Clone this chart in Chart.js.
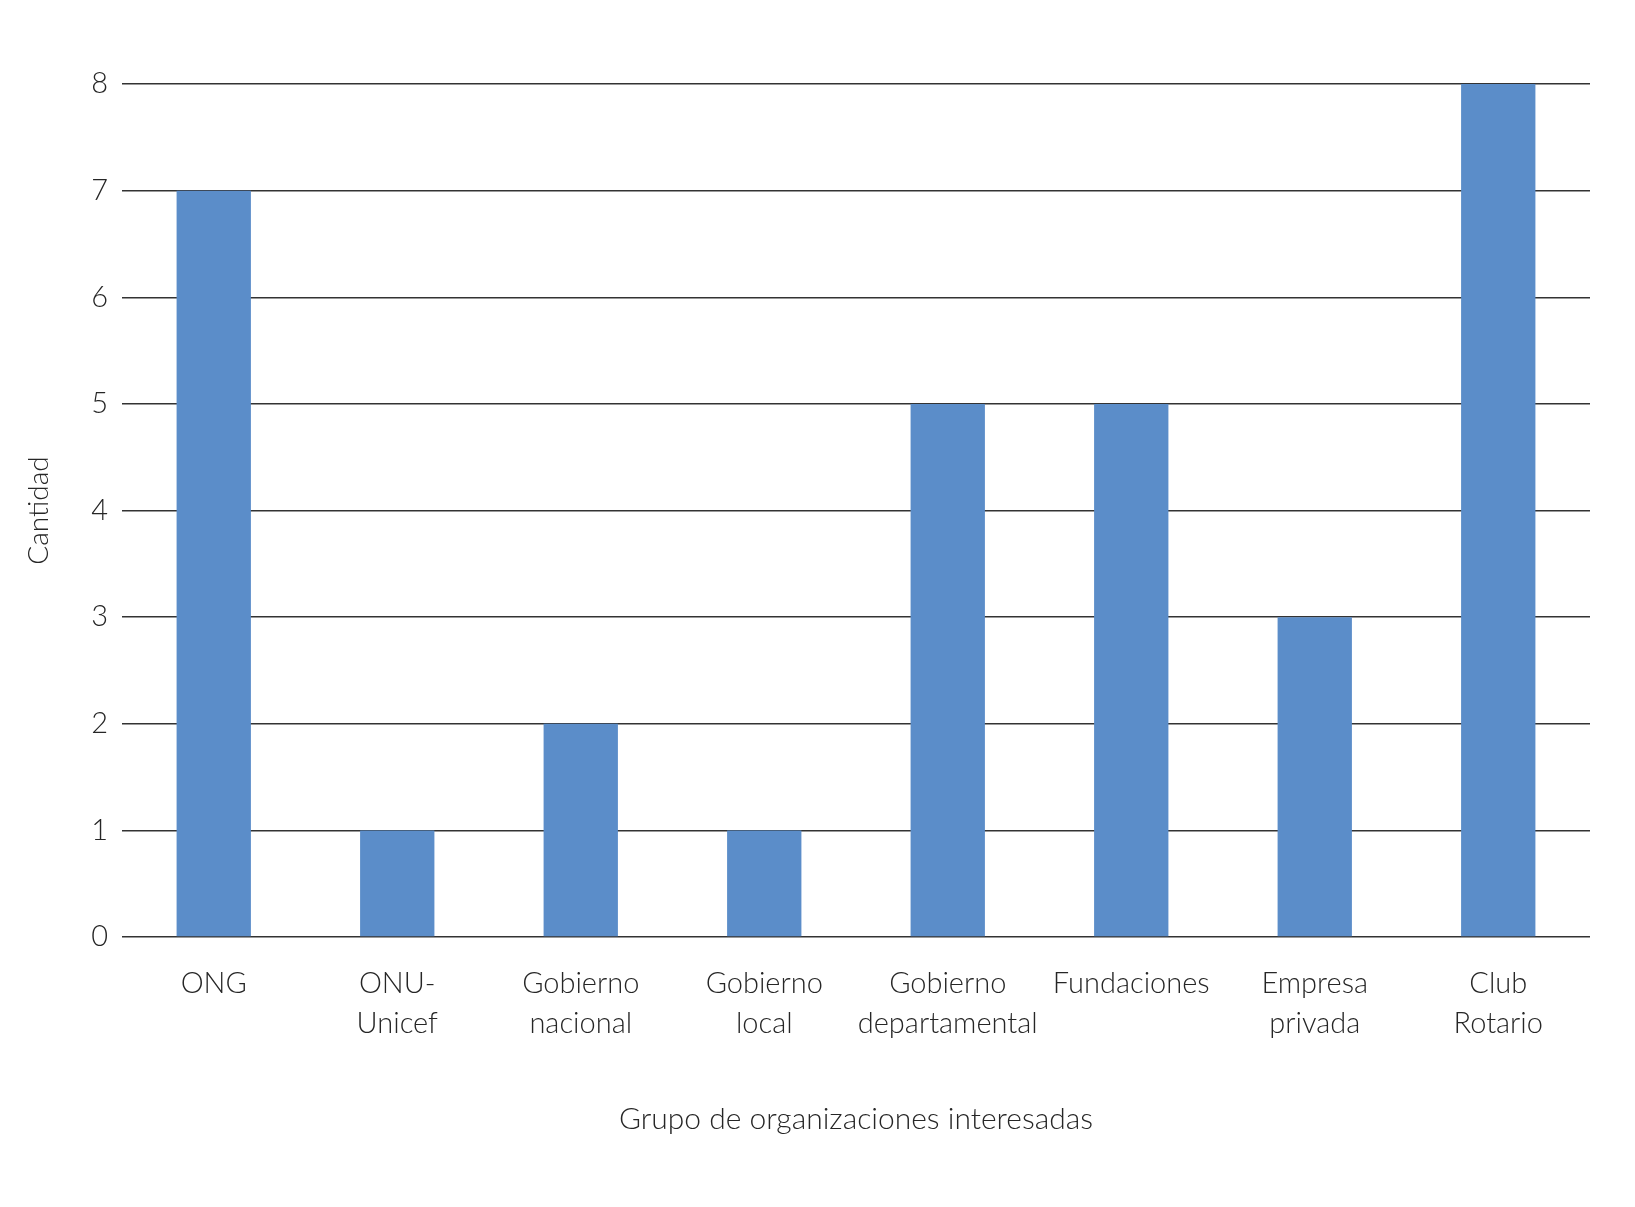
<!DOCTYPE html>
<html lang="es">
<head>
  <meta charset="UTF-8" />
  <title>Grupo de organizaciones interesadas</title>
  <script src="https://cdn.jsdelivr.net/npm/chart.js"></script>
  <style>
    * { box-sizing: border-box; margin: 0; padding: 0; }
    body { background: #fff; width: 1635px; height: 1207px; overflow: hidden; }
    #chart-container { width: 1635px; height: 1207px; }
  </style>
</head>
<body>
  <div id="chart-container">
    <canvas id="barChart"></canvas>
  </div>

  <script>
    const categories = [
      ['ONG'], ['ONU-', 'Unicef'], ['Gobierno', 'nacional'], ['Gobierno', 'local'],
      ['Gobierno', 'departamental'], ['Fundaciones'], ['Empresa', 'privada'], ['Club', 'Rotario']
    ];
    const cantidad = [7, 1, 2, 1, 5, 5, 3, 8];
    const yTicks = [0, 1, 2, 3, 4, 5, 6, 7, 8];

    const FONT = "'Lato', 'Open Sans', sans-serif";
    const TEXT = '#262626';

    const ctx = document.getElementById('barChart').getContext('2d');
    new Chart(ctx, {
      type: 'bar',
      data: {
        labels: categories,
        datasets: [{
          label: 'Cantidad',
          data: cantidad,
          backgroundColor: '#5B8DC9',
          borderWidth: 0,
          barPercentage: 0.81,
          categoryPercentage: 0.5
        }]
      },
      options: {
        responsive: true,
        maintainAspectRatio: false,
        animation: false,
        layout: { padding: { top: 84, right: 45, bottom: 70, left: 0 } },
        plugins: {
          legend: { display: false },
          tooltip: { enabled: false }
        },
        scales: {
          y: {
            min: 0,
            max: 8,
            afterBuildTicks: (scale) => { scale.ticks = yTicks.map(v => ({ value: v })); },
            afterFit: (scale) => { scale.width = 122; },
            border: { display: false },
            grid: { color: '#333', lineWidth: 1.5, drawTicks: false },
            ticks: {
              padding: 14,
              color: TEXT,
              font: { family: FONT, size: 29, weight: 300 }
            },
            title: {
              display: true,
              text: 'Cantidad',
              color: TEXT,
              font: { family: FONT, size: 28, weight: 300 },
              padding: { top: 22, bottom: 0 }
            }
          },
          x: {
            afterFit: (scale) => { scale.height = 200; },
            border: { display: false },
            grid: { display: false },
            ticks: {
              padding: 19,
              color: TEXT,
              maxRotation: 0,
              autoSkip: false,
              font: { family: FONT, size: 29, weight: 300, lineHeight: 1.38 }
            },
            title: {
              display: true,
              text: 'Grupo de organizaciones interesadas',
              color: TEXT,
              font: { family: FONT, size: 30, weight: 300 },
              padding: { top: 0, bottom: 0 }
            }
          }
        }
      }
    });
  </script>
</body>
</html>
